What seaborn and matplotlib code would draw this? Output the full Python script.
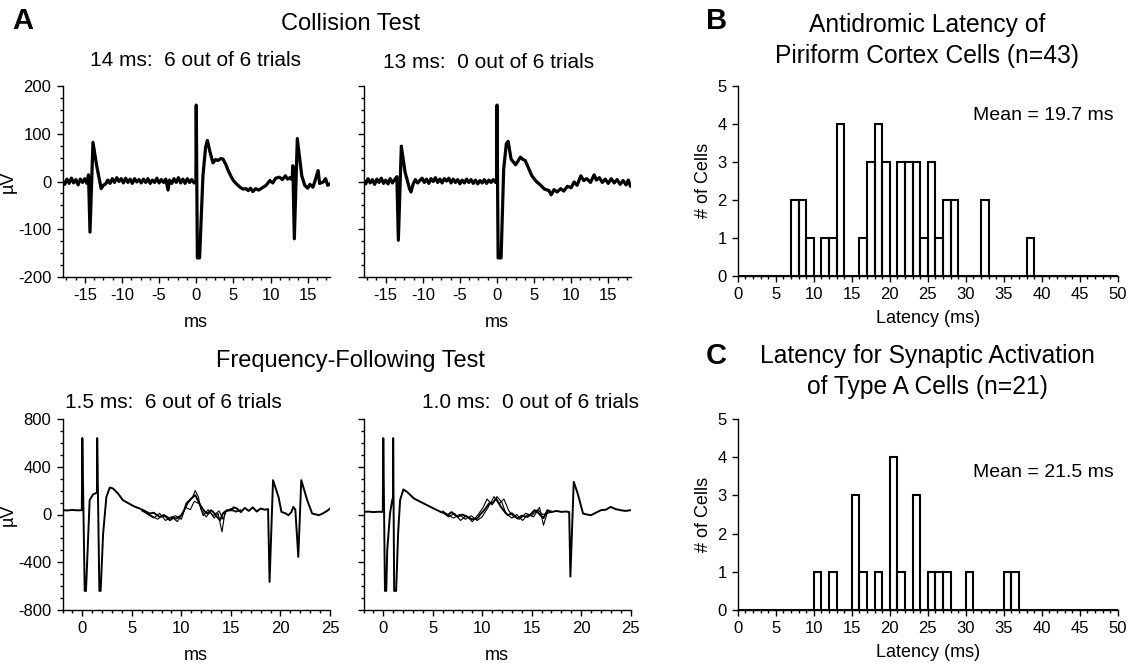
import numpy as np
import pandas as pd
import matplotlib
matplotlib.use('Agg')
import matplotlib.pyplot as plt
from matplotlib.ticker import MultipleLocator
import seaborn as sns

# ---- data ----
# Collision test, 14 ms (t in ms, uV)
col14_t = [-18, -17.7, -17.4, -17.1, -16.8, -16.5, -16.2, -15.9, -15.6, -15.3, -15.0, -14.7, -14.5, -14.3,
           -13.9, -13.4, -12.8, -12.5, -12.2, -11.9, -11.6, -11.3, -11.0, -10.7, -10.4, -10.1, -9.8, -9.5,
           -9.2, -8.9, -8.6, -8.3, -8.0, -7.7, -7.4, -7.1, -6.8, -6.5, -6.2, -5.9, -5.6, -5.3, -5.0, -4.7,
           -4.4, -4.1, -3.8, -3.6, -3.3, -3.0, -2.7, -2.4, -2.1, -1.8, -1.5, -1.2, -0.9, -0.6, -0.3, -0.05,
           0.0, 0.15, 0.45, 0.9, 1.26, 1.5, 1.8, 2.25, 2.6, 2.9, 3.3, 3.6, 4.0, 4.3, 4.7, 5.0, 5.4, 5.9,
           6.3, 6.7, 7.0, 7.3, 7.6, 8.0, 8.4, 9.0, 9.4, 9.9, 10.3, 10.7, 11.2, 11.6, 12.0, 12.3, 12.6, 12.9,
           13.0, 13.2, 13.6, 14.2, 14.6, 15.0, 15.3, 15.7, 16.0, 16.4, 16.6, 17.1, 17.4, 17.7, 18.0]
col14_v = [2, -6, 5, -4, 7, -3, 4, -7, 5, -2, 6, -4, 14, -106,
           82, 33, -15, -8, -5, 3, -4, 6, -2, 8, 0, 6, -3, 7,
           -2, 5, -4, 6, -1, 4, -3, 5, -2, 6, -4, 3, -2, 7, -3, 4,
           -2, 5, -18, 3, -4, 6, -2, 8, -3, 5, -4, 6, -2, 4, -3, 0,
           160, -160, -160, 12, 72, 86, 65, 39, 46, 44, 48, 47, 35, 23, 10, 2, -5, -12,
           -16, -15, -19, -14, -21, -15, -18, -12, -8, 2, -3, 7, 9, 4, 12, 5, 8, 4,
           33, -120, 90, 12, -8, -14, -6, -12, 2, 23, -4, -1, 6, -8, -5]

# Collision test, 13 ms
col13_t = [-18, -17.7, -17.4, -17.1, -16.8, -16.5, -16.2, -15.9, -15.6, -15.3, -15.0, -14.7, -14.4, -14.1,
           -13.8, -13.5, -13.3, -12.9, -12.4, -11.8, -11.6, -11.3, -11.0, -10.7, -10.4, -10.1, -9.8, -9.5,
           -9.2, -8.9, -8.6, -8.3, -8.0, -7.7, -7.4, -7.1, -6.8, -6.5, -6.2, -5.9, -5.6, -5.3, -5.0, -4.7,
           -4.4, -4.1, -3.8, -3.5, -3.2, -2.9, -2.6, -2.3, -2.0, -1.7, -1.4, -1.1, -0.8, -0.5, -0.2, -0.05,
           0.0, 0.15, 0.55, 0.9, 1.26, 1.5, 1.9, 2.5, 2.8, 3.15, 3.5, 3.8, 4.2, 4.7, 5.3, 5.9, 6.4, 7.0,
           7.3, 7.7, 8.1, 8.6, 9.0, 9.5, 10.0, 10.4, 10.8, 11.3, 11.7, 12.1, 12.6, 13.1, 13.4, 13.8, 14.2,
           14.6, 15.0, 15.4, 15.8, 16.2, 16.6, 17.0, 17.4, 17.7, 18.0]
col13_v = [3, -5, 6, -3, 4, -6, 5, -2, 7, -4, 3, -5, 6, -3,
           4, 10, -123, 74, 20, -15, -22, -5, 4, -3, 2, 7, -2, 5,
           -4, 6, 0, 8, -2, 5, -3, 6, 1, 7, -3, 5, -2, 4, -5, 3,
           -3, 5, -2, 4, -4, 3, -5, 2, -3, 4, -4, 3, -2, 4, -2, 0,
           160, -160, -160, 26, 79, 84, 47, 35, 42, 51, 46, 44, 30, 12, 0, -8, -16, -19,
           -28, -17, -22, -15, -20, -10, -13, -1, -8, 12, 2, 6, -2, 14, 3, 8, -2,
           5, -4, 6, -3, 4, -6, 2, -7, 3, -10]

# Frequency-following, 1.5 ms
ff15_t = [-2, -1.5, -1.0, -0.5, -0.05, 0.0, 0.24, 0.37, 0.74, 1.08, 1.4, 1.48, 1.5, 1.72, 1.85, 2.1,
          2.43, 2.77, 3.1, 3.6, 4.1, 5.0, 5.4, 5.8, 6.3, 6.8, 7.2, 7.8, 8.3, 8.85, 9.2, 9.5, 10.0, 10.3,
          10.5, 11.0, 11.4, 11.9, 12.3, 12.6, 13.0, 13.2, 13.6, 13.9, 14.2, 14.5, 15.0, 15.3, 15.6, 16.0,
          16.4, 16.8, 17.2, 17.6, 18.0, 18.4, 18.75, 18.9, 19.25, 19.8, 20.1, 20.5, 20.8, 21.1, 21.3,
          21.5, 21.8, 22.1, 22.7, 23.2, 23.6, 23.9, 24.3, 24.7, 25.0]
ff15_v = [36, 34, 38, 35, 36, 640, -640, -640, 120, 168, 180, 182, 640, -640, -640, -160,
          148, 226, 218, 176, 120, 78, 62, 50, 30, 8, 15, -20, -10, -48, -25, -34, -6, 40,
          92, 134, 162, 78, 30, 8, 35, 22, -20, -48, 10, 30, 36, 60, 50, 20,
          55, 30, 60, 25, 50, 40, 45, -565, 288, 148, 22, 10, -6, 20, 64,
          40, -355, 288, 120, 8, 0, -6, 10, 30, 50]
ff15_alt1_t = [6.0, 6.6, 7.2, 7.8, 8.4, 9.0, 9.6, 10.2, 10.7, 11.1, 11.4, 11.7, 12.0, 12.5, 12.9, 13.3,
               13.7, 14.1, 14.4, 15.0, 15.5, 16.0]
ff15_alt1_v = [40, 0, -30, 10, -50, -20, -60, 20, 100, 140, 200, 150, 40, -20, 20, -30,
               10, -145, 20, 50, 20, 40]
ff15_alt2_t = [6.0, 6.5, 7.0, 7.6, 8.2, 8.8, 9.4, 10.0, 10.4, 10.9, 11.3, 11.8, 12.2, 12.7, 13.2, 13.8,
               14.2, 14.6, 15.2, 16.0]
ff15_alt2_v = [30, 10, -10, -40, 0, -30, -10, -40, 60, 40, 110, 90, -10, 40, -10, 30,
               -40, 40, 30, 30]

# Frequency-following, 1.0 ms
ff10_t = [-2, -1.5, -1.0, -0.5, -0.05, 0.0, 0.17, 0.3, 0.4, 0.68, 0.9, 0.98, 1.0, 1.1, 1.3, 1.5, 1.7,
          2.03, 2.4, 3.1, 4.1, 5.1, 5.8, 6.2, 6.5, 6.9, 7.5, 8.0, 8.5, 9.0, 9.5, 9.8, 10.2, 10.7, 11.1,
          11.4, 11.9, 12.3, 12.6, 13.0, 13.6, 14.0, 14.6, 15.0, 15.3, 15.6, 15.9, 16.2, 16.6, 17.0, 17.5,
          18.0, 18.5, 18.8, 18.92, 19.26, 19.66, 20.2, 20.6, 21.0, 21.5, 22.0, 22.5, 23.0, 23.5, 24.0,
          24.5, 25.0]
ff10_v = [22, 24, 20, 23, 22, 640, -640, -640, -300, 8, 120, 140, 640, -640, -640, -160, 120,
          210, 190, 134, 92, 50, 22, 10, -6, 20, -20, 0, -20, -40, -34, 0, 36, 92, 100,
          134, 64, 20, -6, 10, -34, -10, -20, 10, 36, 20, -6, -30, 36, 20, 30,
          22, 25, 20, -520, 274, 176, 8, 0, -6, 15, 36, 40, 64, 45, 36,
          30, 36]
ff10_alt1_t = [6.0, 6.6, 7.2, 7.8, 8.4, 9.0, 9.6, 10.1, 10.5, 11.0, 11.5, 12.0, 12.4, 13.0, 13.5, 14.1,
               14.6, 15.2, 15.8, 16.2, 16.6, 17.0]
ff10_alt1_v = [20, -20, 10, -50, -10, -60, 0, 60, 130, 80, 150, 100, 10, -30, 0, -50,
               0, -20, 60, -90, 20, 30]
ff10_alt2_t = [6.0, 6.5, 7.1, 7.7, 8.3, 8.9, 9.5, 10.0, 10.6, 11.2, 11.7, 12.2, 12.7, 13.2, 13.8, 14.4,
               15.0, 15.6, 16.1, 16.6, 17.0]
ff10_alt2_v = [30, 0, -30, 0, -40, -10, -50, -20, 60, 150, 90, 130, 30, -20, -40, 10,
               -10, 40, 0, 10, 20]

# Histograms: 1-ms bins, left edge of each non-empty bin and its count
antidromic_bins = [7, 8, 9, 11, 12, 13, 16, 17, 18, 19, 21, 22, 23, 24, 25, 26, 27, 28, 32, 38]
antidromic_counts = [2, 2, 1, 1, 1, 4, 1, 3, 4, 3, 3, 3, 3, 1, 3, 1, 2, 2, 2, 1]
synaptic_bins = [10, 12, 15, 16, 18, 20, 21, 23, 25, 26, 27, 30, 35, 36]
synaptic_counts = [1, 1, 3, 1, 1, 4, 1, 3, 1, 1, 1, 1, 1, 1]

sns.set_style('ticks')
plt.rcParams['font.family'] = ['Liberation Sans', 'DejaVu Sans']
plt.rcParams['axes.unicode_minus'] = False
plt.rcParams['text.color'] = 'black'
plt.rcParams['axes.labelcolor'] = 'black'
plt.rcParams['xtick.major.size'] = 4.5
plt.rcParams['ytick.major.size'] = 4.5
plt.rcParams['xtick.minor.size'] = 2.5
plt.rcParams['ytick.minor.size'] = 2.5
plt.rcParams['xtick.color'] = 'black'
plt.rcParams['ytick.color'] = 'black'
plt.rcParams['axes.edgecolor'] = 'black'

W, H = 1133, 663
fig = plt.figure(figsize=(W / 100, H / 100), dpi=100)


def px_axes(x0, y0, x1, y1):
    return fig.add_axes([x0 / W, 1 - y1 / H, (x1 - x0) / W, (y1 - y0) / H])


def trace(ax, t, v, lw):
    sns.lineplot(x=t, y=v, ax=ax, color='black', linewidth=lw, sort=False, estimator=None)


ax_c1 = px_axes(62.5, 86, 330, 277)
ax_c2 = px_axes(363.5, 86, 630.5, 277)
ax_f1 = px_axes(62.5, 419, 330, 610)
ax_f2 = px_axes(363.5, 419, 630.5, 610)
ax_b = px_axes(737.7, 85.7, 1117.7, 276)
ax_cc = px_axes(737.7, 419, 1117.7, 610)

trace(ax_c1, col14_t, col14_v, 2.3)
trace(ax_c2, col13_t, col13_v, 2.3)
trace(ax_f1, ff15_alt1_t, ff15_alt1_v, 0.8)
trace(ax_f1, ff15_alt2_t, ff15_alt2_v, 0.8)
trace(ax_f1, ff15_t, ff15_v, 1.4)
trace(ax_f2, ff10_alt1_t, ff10_alt1_v, 0.8)
trace(ax_f2, ff10_alt2_t, ff10_alt2_v, 0.8)
trace(ax_f2, ff10_t, ff10_v, 1.4)

for i, ax in enumerate([ax_c1, ax_c2]):
    ax.set_xlim(-18, 18)
    ax.set_ylim(-200, 200)
    ax.set_xticks([-15, -10, -5, 0, 5, 10, 15])
    ax.xaxis.set_minor_locator(MultipleLocator(1.25))
    ax.set_yticks([-200, -100, 0, 100, 200])
    ax.yaxis.set_minor_locator(MultipleLocator(25))
    ax.set_xlabel('ms', fontsize=13, labelpad=8)
    if i == 0:
        ax.set_ylabel('µV', fontsize=13, labelpad=1)
    else:
        ax.set_yticklabels([])
        ax.set_ylabel('')

for i, ax in enumerate([ax_f1, ax_f2]):
    ax.set_xlim(-2, 25)
    ax.set_ylim(-800, 800)
    ax.set_xticks([0, 5, 10, 15, 20, 25])
    ax.xaxis.set_minor_locator(MultipleLocator(1))
    ax.set_yticks([-800, -400, 0, 400, 800])
    ax.yaxis.set_minor_locator(MultipleLocator(100))
    ax.set_xlabel('ms', fontsize=13, labelpad=8)
    if i == 0:
        ax.set_ylabel('µV', fontsize=13, labelpad=1)
    else:
        ax.set_yticklabels([])
        ax.set_ylabel('')

for ax, bins, counts, mean_txt, my in [(ax_b, antidromic_bins, antidromic_counts, 'Mean = 19.7 ms', 4.23),
                                        (ax_cc, synaptic_bins, synaptic_counts, 'Mean = 21.5 ms', 3.61)]:
    hist_df = pd.DataFrame({'latency': np.array(bins) + 0.5, 'cells': counts})
    sns.histplot(data=hist_df, x='latency', weights='cells', binwidth=1, binrange=(0, 50),
                 fill=False, color='black', linewidth=1.5, ax=ax)
    ax.set_xlim(0, 50)
    ax.set_ylim(0, 5)
    ax.set_xticks(range(0, 51, 5))
    ax.xaxis.set_minor_locator(MultipleLocator(1))
    ax.set_yticks(range(0, 6))
    ax.set_xlabel('Latency (ms)', fontsize=13, labelpad=6)
    ax.set_ylabel('# of Cells', fontsize=13, labelpad=4)
    ax.text(31.0, my, mean_txt, fontsize=14, va='center', ha='left')

for ax in [ax_c1, ax_c2, ax_f1, ax_f2, ax_b, ax_cc]:
    sns.despine(ax=ax)
    ax.tick_params(labelsize=12, which='both', direction='out', width=1.0)
    for sp in ax.spines.values():
        sp.set_linewidth(1.0)

# panel letters and titles
fig.text(12 / W, 1 - 21 / H, 'A', fontsize=21, fontweight='bold', va='center', ha='left')
fig.text(706 / W, 1 - 21 / H, 'B', fontsize=21, fontweight='bold', va='center', ha='left')
fig.text(706 / W, 1 - 356 / H, 'C', fontsize=21, fontweight='bold', va='center', ha='left')

fig.text(351 / W, 1 - 30 / H, 'Collision Test', fontsize=17, ha='center', va='baseline')
fig.text(196 / W, 1 - 66 / H, '14 ms:  6 out of 6 trials', fontsize=15, ha='center', va='baseline')
fig.text(489 / W, 1 - 68 / H, '13 ms:  0 out of 6 trials', fontsize=15, ha='center', va='baseline')
fig.text(351 / W, 1 - 367 / H, 'Frequency-Following Test', fontsize=17, ha='center', va='baseline')
fig.text(65 / W, 1 - 408 / H, '1.5 ms:  6 out of 6 trials', fontsize=15, ha='left', va='baseline')
fig.text(639 / W, 1 - 408 / H, '1.0 ms:  0 out of 6 trials', fontsize=15, ha='right', va='baseline')

fig.text(927 / W, 1 - 32 / H, 'Antidromic Latency of', fontsize=17.7, ha='center', va='baseline')
fig.text(927 / W, 1 - 63 / H, 'Piriform Cortex Cells (n=43)', fontsize=17.7, ha='center', va='baseline')
fig.text(927 / W, 1 - 363 / H, 'Latency for Synaptic Activation', fontsize=17.7, ha='center', va='baseline')
fig.text(927 / W, 1 - 394 / H, 'of Type A Cells (n=21)', fontsize=17.7, ha='center', va='baseline')

fig.savefig('out.png', dpi=100)
